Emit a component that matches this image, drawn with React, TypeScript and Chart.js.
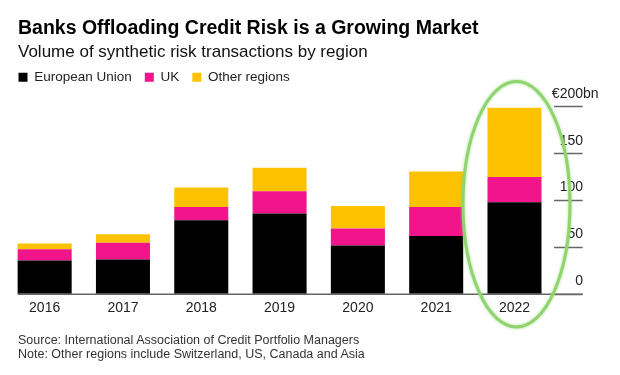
import React, { useEffect, useRef } from 'react';
import { Chart, registerables } from 'chart.js';

Chart.register(...registerables);

const FONT = "'Liberation Sans', Arial, Helvetica, sans-serif";

const years = ['2016', '2017', '2018', '2019', '2020', '2021', '2022'];
const euValues = [36, 37, 79, 86, 52, 62, 98];
const ukValues = [12, 18, 14, 24, 18, 31, 27];
const otherValues = [6, 9, 21, 25, 24, 38, 74];
const seriesNames = ['European Union', 'UK', 'Other regions'];
const seriesColors = ['#000000', '#f2148b', '#fcc200'];
const yTickStep = 50;
const yMax = 200;
const topTickLabel = '€200bn';
const highlightIndex = 6;

const titleText = 'Banks Offloading Credit Risk is a Growing Market';
const subtitleText = 'Volume of synthetic risk transactions by region';
const sourceText = 'Source: International Association of Credit Portfolio Managers';
const noteText = 'Note: Other regions include Switzerland, US, Canada and Asia';

const TICK_LEN = 29;
const TICK_PAD = -11.5;
const LABEL_OFFSET = -13;

export default function App() {
  const ref = useRef<HTMLCanvasElement>(null);

  useEffect(() => {
    const canvas = ref.current!;

    const legendExtra = {
      id: 'legendExtra',
      beforeLayout(chart: any) {
        const lg = chart.legend;
        if (lg && !lg.__patched) {
          const orig = lg.fit;
          lg.fit = function () {
            orig.call(this);
            this.height += 12.8;
          };
          lg.__patched = true;
        }
      },
    };

    const baselinePlugin = {
      id: 'baseline',
      afterDatasetsDraw(chart: any) {
        const ctx = chart.ctx;
        const y = chart.scales.y;
        const first = chart.getDatasetMeta(0).data[0];
        const x0 = first.x - first.width / 2;
        const x1 = y.left + TICK_LEN;
        const py = y.getPixelForValue(0);
        ctx.save();
        ctx.strokeStyle = '#666';
        ctx.lineWidth = 1.5;
        ctx.beginPath();
        ctx.moveTo(x0, py);
        ctx.lineTo(x1, py);
        ctx.stroke();
        ctx.restore();
      },
    };

    const topLabelPlugin = {
      id: 'topLabel',
      afterDraw(chart: any) {
        const ctx = chart.ctx;
        const y = chart.scales.y;
        ctx.save();
        ctx.font = `14px ${FONT}`;
        const right = y.right;
        const numPart = topTickLabel.replace('bn', '');
        const x = right - ctx.measureText(numPart).width;
        ctx.fillStyle = '#222';
        ctx.textAlign = 'left';
        ctx.textBaseline = 'middle';
        ctx.fillText(topTickLabel, x, y.getPixelForValue(yMax) + LABEL_OFFSET);
        ctx.restore();
      },
    };

    const ellipsePlugin = {
      id: 'highlight',
      afterDraw(chart: any) {
        const ctx = chart.ctx;
        const y = chart.scales.y;
        const bar = chart.getDatasetMeta(0).data[highlightIndex];
        const top = y.getPixelForValue(227);
        const bottom = y.getPixelForValue(-35);
        const cx = bar.x + 2;
        const cy = (top + bottom) / 2;
        const rx = bar.width * 0.99;
        const ry = (bottom - top) / 2;
        ctx.save();
        ctx.strokeStyle = '#8fd46c';
        ctx.lineWidth = 3;
        ctx.shadowColor = 'rgba(130,210,100,0.7)';
        ctx.shadowBlur = 3;
        ctx.beginPath();
        ctx.ellipse(cx, cy, rx, ry, 0, 0, Math.PI * 2);
        ctx.stroke();
        ctx.restore();
      },
    };

    const mk = (i: number, values: number[]) => ({
      label: seriesNames[i],
      data: values,
      backgroundColor: seriesColors[i],
      borderWidth: 0,
      barPercentage: 0.69,
      categoryPercentage: 1,
    });

    const chart = new Chart(canvas, {
      type: 'bar',
      data: {
        labels: years,
        datasets: [mk(0, euValues), mk(1, ukValues), mk(2, otherValues)],
      },
      options: {
        responsive: false,
        animation: false,
        devicePixelRatio: 1,
        layout: { padding: { top: 57.5, left: 5.5, right: 37, bottom: 52 } },
        plugins: {
          title: { display: false },
          tooltip: { enabled: false },
          legend: {
            display: true,
            position: 'top',
            align: 'start',
            labels: {
              boxWidth: 9,
              boxHeight: 9,
              padding: 13,
              color: '#222',
              font: { family: FONT, size: 13.5 },
            },
          },
        },
        scales: {
          x: {
            stacked: true,
            grid: { display: false, drawTicks: false },
            border: { display: false },
            ticks: { color: '#222', font: { family: FONT, size: 14 }, padding: 6 },
          },
          y: {
            stacked: true,
            position: 'right',
            min: 0,
            max: yMax,
            grid: {
              drawOnChartArea: false,
              drawTicks: true,
              tickLength: TICK_LEN,
              tickColor: '#666',
              tickWidth: 1.5,
            },
            border: { display: false },
            ticks: {
              stepSize: yTickStep,
              crossAlign: 'far',
              padding: TICK_PAD,
              labelOffset: LABEL_OFFSET,
              color: '#222',
              font: { family: FONT, size: 14 },
              callback: (v: any) => (Number(v) === yMax ? '' : String(v)),
            },
          },
        },
      } as any,
      plugins: [legendExtra, baselinePlugin, topLabelPlugin, ellipsePlugin],
    });

    return () => chart.destroy();
  }, []);

  const textBase: React.CSSProperties = {
    position: 'absolute',
    whiteSpace: 'nowrap',
    fontFamily: FONT,
  };

  return (
    <div style={{ position: 'fixed', left: 0, top: 0, width: 620, height: 375, background: '#fff', overflow: 'hidden' }}>
      <canvas ref={ref} width={620} height={375} style={{ position: 'absolute', left: 0, top: 0 }} />
      <div style={{ ...textBase, left: 18, top: 18, fontSize: 19.5, lineHeight: '19.5px', fontWeight: 'bold', color: '#000' }}>{titleText}</div>
      <div style={{ ...textBase, left: 18, top: 43, fontSize: 17, lineHeight: '17px', color: '#111' }}>{subtitleText}</div>
      <div style={{ ...textBase, left: 18, top: 334, fontSize: 12.5, lineHeight: '12.5px', color: '#333' }}>{sourceText}</div>
      <div style={{ ...textBase, left: 18, top: 348, fontSize: 12.5, lineHeight: '12.5px', color: '#333' }}>{noteText}</div>
    </div>
  );
}
